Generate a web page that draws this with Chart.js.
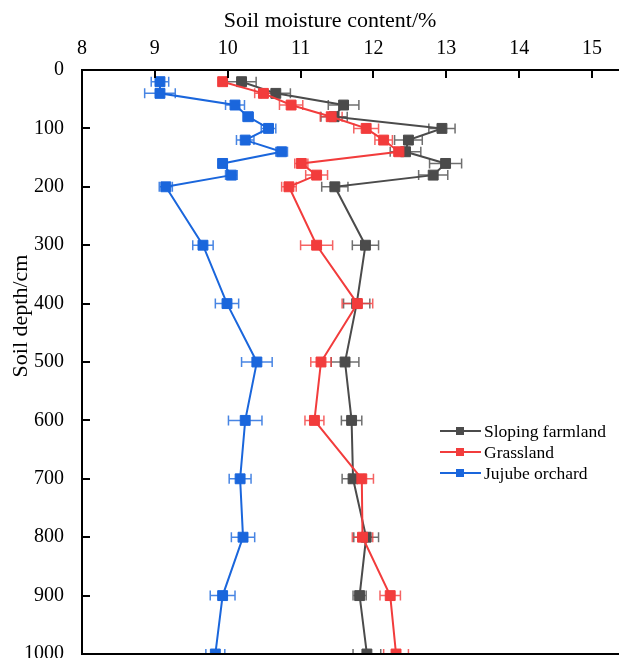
<!DOCTYPE html>
<html><head><meta charset="utf-8">
<script src="https://cdn.jsdelivr.net/npm/chart.js@4/dist/chart.umd.min.js"></script>
<style>html,body{margin:0;padding:0;background:#fff;}</style>
</head><body>
<canvas id="c" width="619" height="658"></canvas>
<script>
const depths = [20,40,60,80,100,120,140,160,180,200,300,400,500,600,700,800,900,1000];
const sloping    = [10.19,10.66,11.59,11.46,12.94,12.48,12.44,12.99,12.82,11.47,11.89,11.77,11.61,11.70,11.72,11.90,11.81,11.91];
const slopingErr = [0.20,0.20,0.21,0.18,0.18,0.19,0.21,0.22,0.20,0.18,0.18,0.18,0.19,0.14,0.15,0.17,0.09,0.19];
const grass      = [9.93,10.49,10.87,11.42,11.90,12.14,12.35,11.01,11.22,10.84,11.22,11.78,11.28,11.19,11.84,11.85,12.23,12.31];
const grassErr   = [0.05,0.12,0.16,0.15,0.17,0.12,0.07,0.09,0.15,0.10,0.22,0.21,0.14,0.13,0.16,0.14,0.14,0.17];
const jujube     = [9.07,9.07,10.10,10.28,10.56,10.24,10.74,9.93,10.05,9.15,9.66,9.99,10.40,10.24,10.17,10.21,9.93,9.83];
const jujubeErr  = [0.12,0.21,0.13,0.07,0.10,0.12,0.08,0.06,0.08,0.09,0.14,0.16,0.21,0.23,0.15,0.16,0.17,0.13];
const seriesNames = ['Sloping farmland','Grassland','Jujube orchard'];
const xTicks = [8,9,10,11,12,13,14,15];
const yTicks = [0,100,200,300,400,500,600,700,800,900,1000];
const xTitle = 'Soil moisture content/%';
const yTitle = 'Soil depth/cm';

const colors = ['#4b4b4b','#f23c3c','#1a66dc'];
const errColors = ['rgba(75,75,75,0.8)','rgba(242,60,60,0.8)','rgba(26,102,220,0.8)'];
const FONT = "'Liberation Serif', 'Times New Roman', serif";

function mk(vals, errs, i, order){
  return {
    label: seriesNames[i],
    data: depths.map((d,k)=>({x: vals[k], y: d})),
    errors: errs,
    errColor: errColors[i],
    borderColor: colors[i],
    backgroundColor: colors[i],
    pointBackgroundColor: colors[i],
    pointBorderColor: colors[i],
    pointStyle: 'rect',
    pointRadius: 7,
    pointBorderWidth: 1,
    borderWidth: 2,
    tension: 0,
    clip: 0,
    order: order
  };
}

const extras = {
  id: 'extras',
  beforeDatasetsDraw(chart){
    const {ctx, chartArea:a, scales:{x,y}} = chart;
    ctx.save();
    ctx.beginPath(); ctx.rect(a.left, a.top, a.right-a.left, a.bottom-a.top); ctx.clip();
    ctx.lineWidth = 1.5;
    chart.data.datasets.forEach(ds=>{
      ctx.strokeStyle = ds.errColor;
      ds.data.forEach((p,j)=>{
        const e = ds.errors[j];
        const x1 = x.getPixelForValue(p.x-e), x2 = x.getPixelForValue(p.x+e), py = y.getPixelForValue(p.y);
        ctx.beginPath();
        ctx.moveTo(x1,py); ctx.lineTo(x2,py);
        ctx.moveTo(x1,py-5); ctx.lineTo(x1,py+5);
        ctx.moveTo(x2,py-5); ctx.lineTo(x2,py+5);
        ctx.stroke();
      });
    });
    ctx.restore();
  },
  afterDraw(chart){
    const {ctx, chartArea:a, scales:{x,y}} = chart;
    ctx.save();
    ctx.strokeStyle = '#000'; ctx.lineWidth = 2;
    xTicks.forEach(v=>{
      const px = Math.round(x.getPixelForValue(v));
      ctx.beginPath(); ctx.moveTo(px, a.top); ctx.lineTo(px, a.top+8); ctx.stroke();
    });
    yTicks.forEach(v=>{
      const py = Math.round(y.getPixelForValue(v));
      ctx.beginPath(); ctx.moveTo(a.left, py); ctx.lineTo(a.left+8, py); ctx.stroke();
    });
    ctx.beginPath(); ctx.moveTo(a.left, a.bottom); ctx.lineTo(a.right, a.bottom); ctx.stroke();
    ctx.fillStyle = '#000';
    ctx.font = '22px ' + FONT;
    ctx.textAlign = 'center'; ctx.textBaseline = 'alphabetic';
    ctx.fillText(xTitle, 330, 27);
    ctx.save();
    ctx.translate(27, 316); ctx.rotate(-Math.PI/2);
    ctx.fillText(yTitle, 0, 0);
    ctx.restore();
    ctx.font = '17.5px ' + FONT;
    ctx.textAlign = 'left'; ctx.textBaseline = 'middle';
    const rows = [431, 452, 473];
    seriesNames.forEach((n,i)=>{
      const ry = rows[i];
      ctx.strokeStyle = colors[i]; ctx.lineWidth = 2;
      ctx.beginPath(); ctx.moveTo(440, ry); ctx.lineTo(481, ry); ctx.stroke();
      ctx.fillStyle = colors[i];
      ctx.fillRect(456, ry-4, 8, 8);
      ctx.fillStyle = '#000';
      ctx.fillText(n, 484, ry+1);
    });
    ctx.restore();
  }
};

new Chart(document.getElementById('c'), {
  type: 'line',
  data: { datasets: [ mk(sloping, slopingErr, 0, 1), mk(grass, grassErr, 1, 0), mk(jujube, jujubeErr, 2, 2) ] },
  options: {
    responsive: false,
    animation: false,
    layout: { autoPadding: false, padding: { left: 0, right: 0, top: 0, bottom: 4 } },
    plugins: { legend: { display: false }, tooltip: { enabled: false } },
    scales: {
      x: {
        type: 'linear', position: 'top', min: 8, max: 15.37,
        afterBuildTicks: s => { s.ticks = xTicks.map(v=>({value:v})); },
        afterFit: s => { s.height = 70; s.paddingLeft = 0; s.paddingRight = 0; },
        grid: { display: false },
        border: { display: true, color: '#000', width: 2 },
        ticks: { font: { family: FONT, size: 20 }, color: '#000', padding: 1, maxRotation: 0, autoSkip: false, callback: v => String(v) }
      },
      y: {
        type: 'linear', reverse: true, min: 0, max: 1000,
        afterBuildTicks: s => { s.ticks = yTicks.map(v=>({value:v})); },
        afterFit: s => { s.width = 82; s.paddingTop = 0; s.paddingBottom = 0; },
        grid: { display: false },
        border: { display: true, color: '#000', width: 2 },
        ticks: { font: { family: FONT, size: 20 }, color: '#000', padding: 10, autoSkip: false, callback: v => String(v) }
      }
    }
  },
  plugins: [extras]
});
</script>
</body></html>
